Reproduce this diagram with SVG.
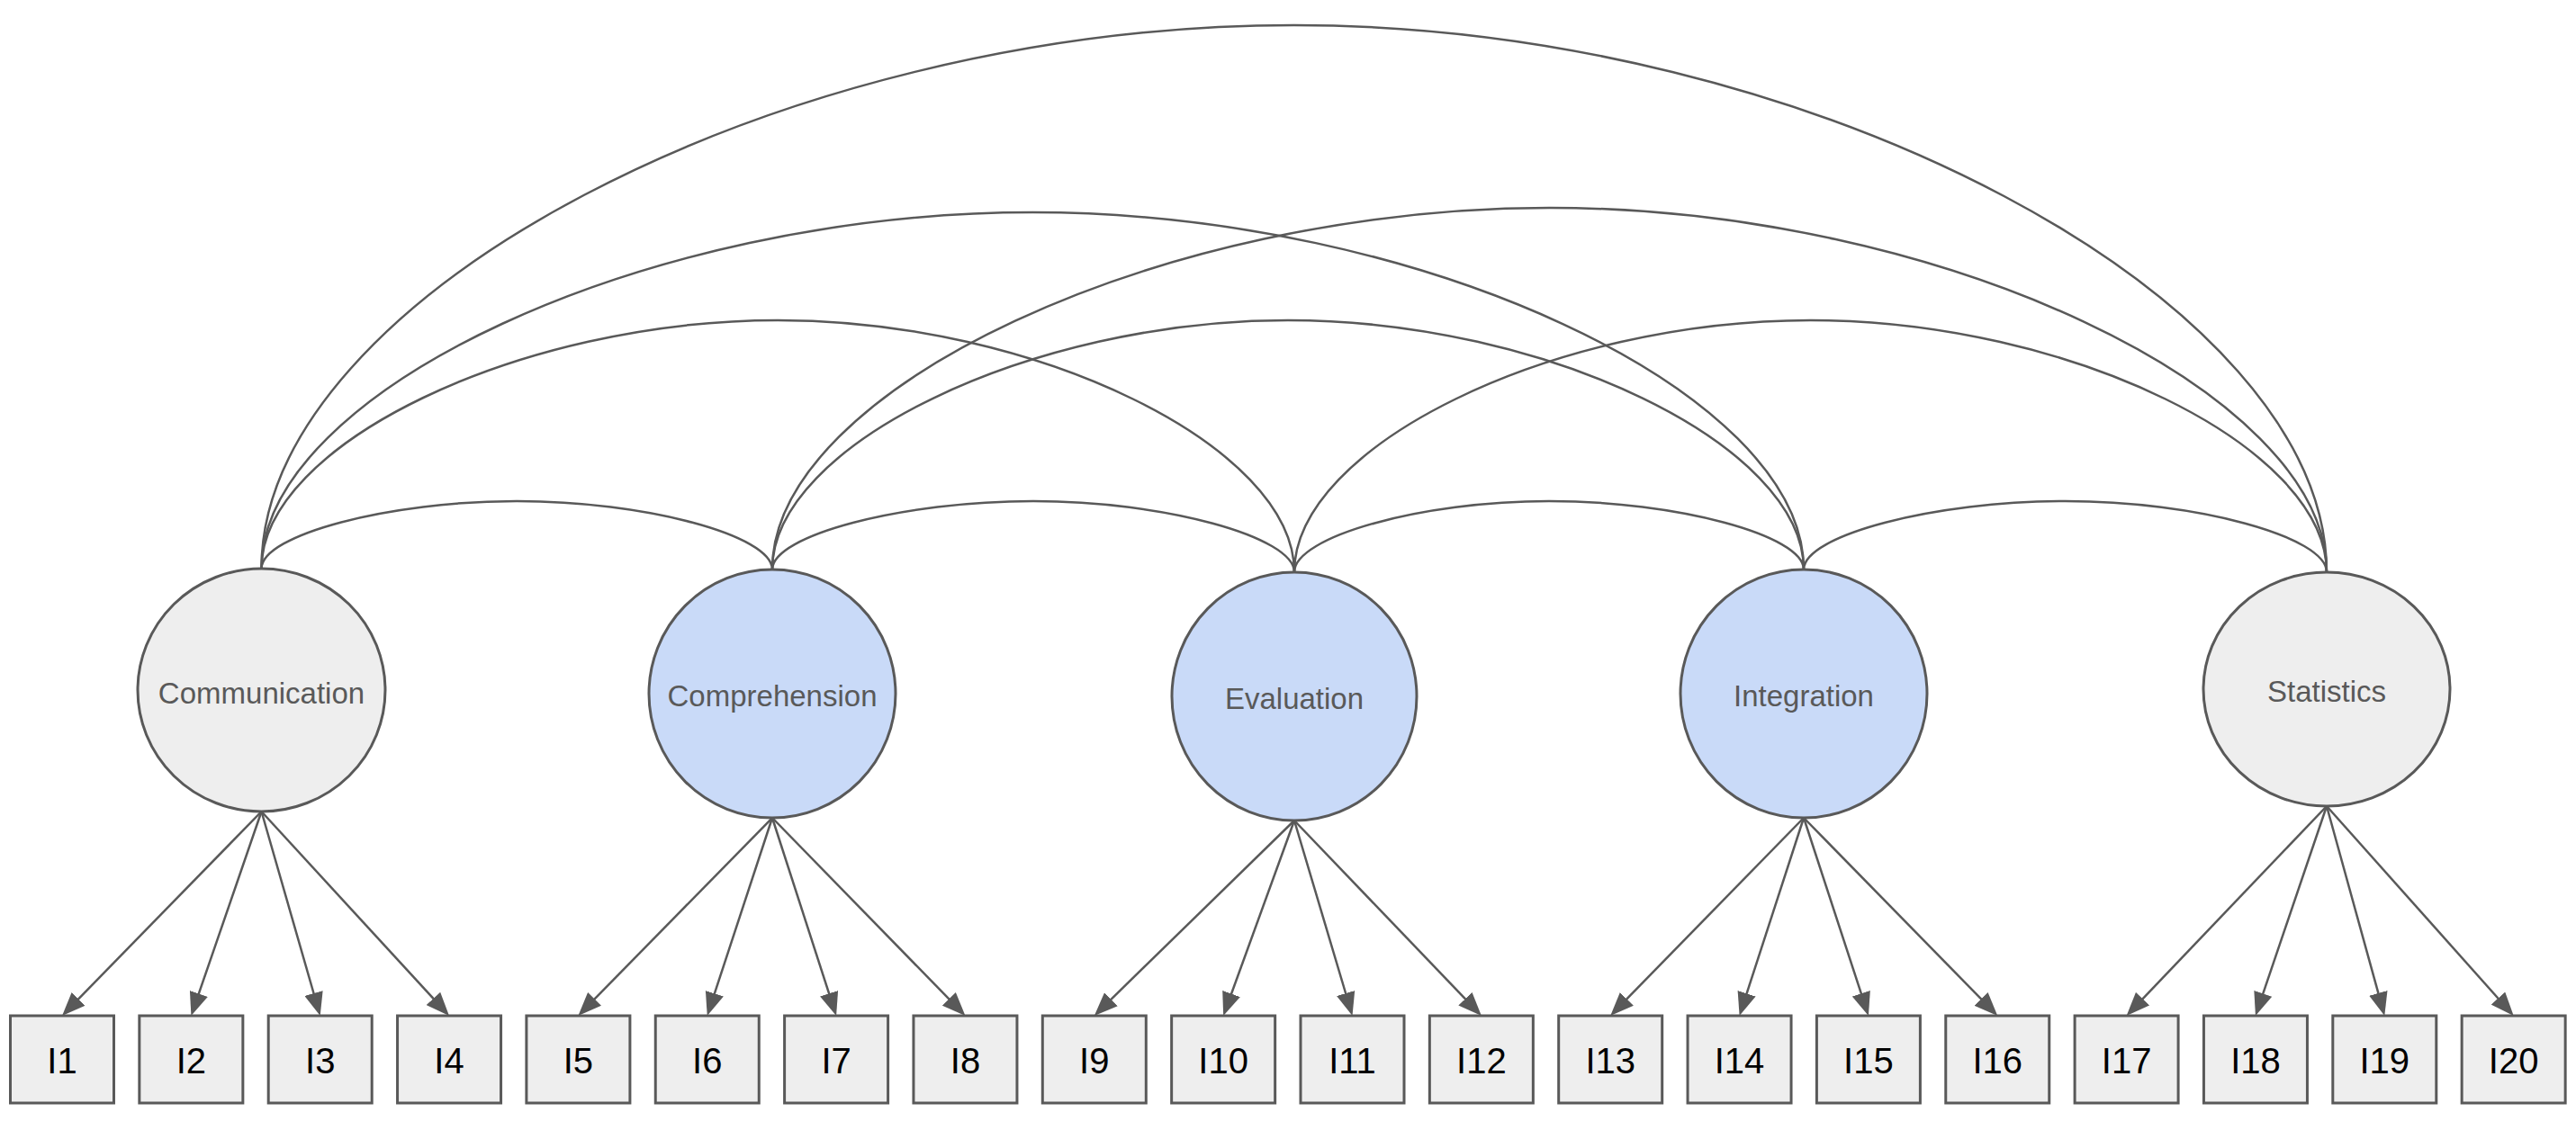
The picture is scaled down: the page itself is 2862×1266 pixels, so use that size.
<svg xmlns="http://www.w3.org/2000/svg" width="2862" height="1266" viewBox="0 0 2862 1266">
  <style>
    .latent { stroke: #595959; stroke-width: 3; }
    .grey { fill: #eeeeee; }
    .blue { fill: #c9daf8; }
    .item { fill: #eeeeee; stroke: #595959; stroke-width: 3; }
    .llabel { font-family: "Liberation Sans", Arial, sans-serif; font-size: 33px; fill: #595959; text-anchor: middle; }
    .ilabel { font-family: "Liberation Sans", Arial, sans-serif; font-size: 40px; fill: #000000; text-anchor: middle; }
    .cov { fill: none; stroke: #595959; stroke-width: 2.5; }
    .load { fill: none; stroke: #595959; stroke-width: 2.5; marker-end: url(#ah); }
  </style>
  <defs>
    <marker id="ah" viewBox="0 0 26 21" markerWidth="26" markerHeight="21" refX="14" refY="10.5" orient="auto" markerUnits="userSpaceOnUse">
      <path d="M0,0 L26,10.5 L0,21 z" fill="#595959"/>
    </marker>
  </defs>
  <rect width="2862" height="1266" fill="#ffffff"/>

  <!-- latent factors -->
  <g id="communication">
    <ellipse class="latent grey" cx="290.5" cy="767" rx="137.5" ry="135"/>
    <text class="llabel" x="290.5" y="782">Communication</text>
  </g>
  <g id="comprehension">
    <ellipse class="latent blue" cx="858" cy="771" rx="137" ry="138"/>
    <text class="llabel" x="858" y="785">Comprehension</text>
  </g>
  <g id="evaluation">
    <ellipse class="latent blue" cx="1438" cy="774" rx="136" ry="138"/>
    <text class="llabel" x="1438" y="788">Evaluation</text>
  </g>
  <g id="integration">
    <ellipse class="latent blue" cx="2004" cy="771" rx="137" ry="138"/>
    <text class="llabel" x="2004" y="785">Integration</text>
  </g>
  <g id="statistics">
    <ellipse class="latent grey" cx="2585" cy="766" rx="137" ry="130"/>
    <text class="llabel" x="2585" y="780">Statistics</text>
  </g>

  <!-- observed items -->
  <g id="I1"><rect class="item" x="11.5" y="1129" width="115" height="97"/><text class="ilabel" x="69" y="1193">I1</text></g>
  <g id="I2"><rect class="item" x="154.85" y="1129" width="115" height="97"/><text class="ilabel" x="212.35" y="1193">I2</text></g>
  <g id="I3"><rect class="item" x="298.2" y="1129" width="115" height="97"/><text class="ilabel" x="355.7" y="1193">I3</text></g>
  <g id="I4"><rect class="item" x="441.55" y="1129" width="115" height="97"/><text class="ilabel" x="499.05" y="1193">I4</text></g>
  <g id="I5"><rect class="item" x="584.9" y="1129" width="115" height="97"/><text class="ilabel" x="642.4" y="1193">I5</text></g>
  <g id="I6"><rect class="item" x="728.25" y="1129" width="115" height="97"/><text class="ilabel" x="785.75" y="1193">I6</text></g>
  <g id="I7"><rect class="item" x="871.6" y="1129" width="115" height="97"/><text class="ilabel" x="929.1" y="1193">I7</text></g>
  <g id="I8"><rect class="item" x="1014.95" y="1129" width="115" height="97"/><text class="ilabel" x="1072.45" y="1193">I8</text></g>
  <g id="I9"><rect class="item" x="1158.3" y="1129" width="115" height="97"/><text class="ilabel" x="1215.8" y="1193">I9</text></g>
  <g id="I10"><rect class="item" x="1301.65" y="1129" width="115" height="97"/><text class="ilabel" x="1359.15" y="1193">I10</text></g>
  <g id="I11"><rect class="item" x="1445" y="1129" width="115" height="97"/><text class="ilabel" x="1502.5" y="1193">I11</text></g>
  <g id="I12"><rect class="item" x="1588.35" y="1129" width="115" height="97"/><text class="ilabel" x="1645.85" y="1193">I12</text></g>
  <g id="I13"><rect class="item" x="1731.7" y="1129" width="115" height="97"/><text class="ilabel" x="1789.2" y="1193">I13</text></g>
  <g id="I14"><rect class="item" x="1875.05" y="1129" width="115" height="97"/><text class="ilabel" x="1932.55" y="1193">I14</text></g>
  <g id="I15"><rect class="item" x="2018.4" y="1129" width="115" height="97"/><text class="ilabel" x="2075.9" y="1193">I15</text></g>
  <g id="I16"><rect class="item" x="2161.75" y="1129" width="115" height="97"/><text class="ilabel" x="2219.25" y="1193">I16</text></g>
  <g id="I17"><rect class="item" x="2305.1" y="1129" width="115" height="97"/><text class="ilabel" x="2362.6" y="1193">I17</text></g>
  <g id="I18"><rect class="item" x="2448.45" y="1129" width="115" height="97"/><text class="ilabel" x="2505.95" y="1193">I18</text></g>
  <g id="I19"><rect class="item" x="2591.8" y="1129" width="115" height="97"/><text class="ilabel" x="2649.3" y="1193">I19</text></g>
  <g id="I20"><rect class="item" x="2735.15" y="1129" width="115" height="97"/><text class="ilabel" x="2792.65" y="1193">I20</text></g>

  <g id="connectors">
    <!-- factor covariances: curved links between factor tops -->
    <path class="cov" d="M290.5,632 C290.5,594.5 432.4,557 574.25,557 C716.1,557 858,595 858,633"/>
    <path class="cov" d="M858,633 C858,595 1003,557 1148,557 C1293,557 1438,596.5 1438,636"/>
    <path class="cov" d="M1438,636 C1438,596.5 1579.5,557 1721,557 C1862.5,557 2004,595 2004,633"/>
    <path class="cov" d="M2004,633 C2004,595 2149.25,557 2294.5,557 C2439.75,557 2585,596.5 2585,636"/>
    <path class="cov" d="M290.5,632 C290.5,494 577.4,356 864.25,356 C1151.1,356 1438,496 1438,636"/>
    <path class="cov" d="M858,633 C858,494.5 1144.5,356 1431,356 C1717.5,356 2004,494.5 2004,633"/>
    <path class="cov" d="M1438,636 C1438,496 1724.75,356 2011.5,356 C2298.25,356 2585,496 2585,636"/>
    <path class="cov" d="M290.5,632 C290.5,434 718.9,236 1147.25,236 C1575.6,236 2004,434.5 2004,633"/>
    <path class="cov" d="M858,633 C858,432 1289.75,231 1721.5,231 C2153.25,231 2585,433.5 2585,636"/>
    <path class="cov" d="M290.5,632 C290.5,330 864.1,28 1437.75,28 C2011.4,28 2585,332 2585,636"/>

    <!-- factor loadings -->
    <line class="load" x1="290.5" y1="902" x2="77.4" y2="1120.4"/>
    <line class="load" x1="290.5" y1="902" x2="216.3" y2="1117.7"/>
    <line class="load" x1="290.5" y1="902" x2="352.4" y2="1117.5"/>
    <line class="load" x1="290.5" y1="902" x2="490.9" y2="1120.2"/>

    <line class="load" x1="858" y1="909" x2="650.8" y2="1120.4"/>
    <line class="load" x1="858" y1="909" x2="789.5" y2="1117.6"/>
    <line class="load" x1="858" y1="909" x2="925.4" y2="1117.6"/>
    <line class="load" x1="858" y1="909" x2="1064.1" y2="1120.4"/>

    <line class="load" x1="1438" y1="912" x2="1224.4" y2="1120.6"/>
    <line class="load" x1="1438" y1="912" x2="1363.3" y2="1117.7"/>
    <line class="load" x1="1438" y1="912" x2="1499.1" y2="1117.5"/>
    <line class="load" x1="1438" y1="912" x2="1637.6" y2="1120.3"/>

    <line class="load" x1="2004" y1="909" x2="1797.6" y2="1120.4"/>
    <line class="load" x1="2004" y1="909" x2="1936.3" y2="1117.6"/>
    <line class="load" x1="2004" y1="909" x2="2072.2" y2="1117.6"/>
    <line class="load" x1="2004" y1="909" x2="2210.9" y2="1120.4"/>

    <line class="load" x1="2585" y1="896" x2="2370.9" y2="1120.3"/>
    <line class="load" x1="2585" y1="896" x2="2509.8" y2="1117.6"/>
    <line class="load" x1="2585" y1="896" x2="2646.1" y2="1117.4"/>
    <line class="load" x1="2585" y1="896" x2="2784.7" y2="1120.0"/>
  </g>
</svg>
